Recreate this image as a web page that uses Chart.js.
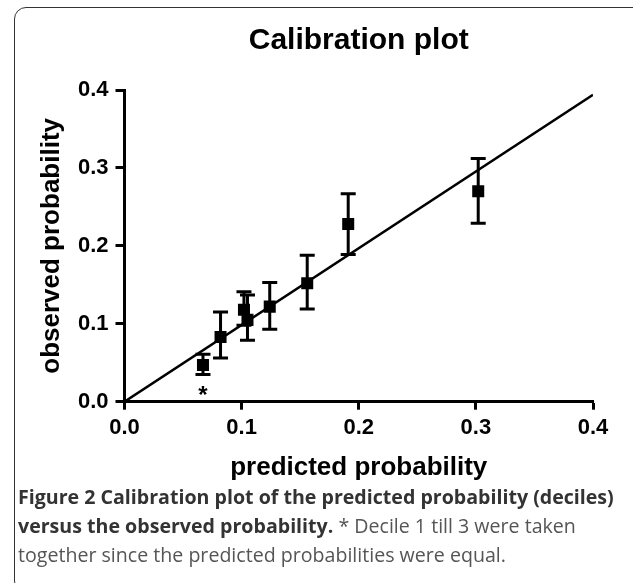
<!DOCTYPE html>
<html>
<head>
<meta charset="utf-8">
<script src="https://cdn.jsdelivr.net/npm/chart.js@4"></script>
<style>
    html, body { margin: 0; padding: 0; background: #fff; }
    #wrap { position: relative; width: 633px; height: 583px; overflow: hidden; }
    #frame {
        position: absolute; left: 14px; top: 7px; width: 650px; height: 586px;
        border: 1.5px solid #333; border-radius: 12px; box-sizing: border-box;
    }
    #plot { position: absolute; left: 0; top: 0; }
    #caption {
        position: absolute; left: 18px; top: 482px; width: 608px;
        font-family: 'Open Sans', sans-serif; font-size: 19.6px; line-height: 29px;
        color: #555;
    }
    #caption b { color: #333; }
</style>
</head>
<body>
<div id="wrap">
    <div id="frame"></div>
    <canvas id="plot" width="633" height="485"></canvas>
    <div id="caption"><b>Figure 2 Calibration plot of the predicted probability (deciles) versus the observed probability.</b> * Decile 1 till 3 were taken together since the predicted probabilities were equal.</div>
</div>
<script>
    // deciles: predicted vs observed, with error bar ends
    const predicted = [0.067, 0.082, 0.102, 0.105, 0.124, 0.156, 0.191, 0.302];
    const observed  = [0.047, 0.083, 0.118, 0.105, 0.122, 0.152, 0.228, 0.270];
    const lower     = [0.035, 0.056, 0.098, 0.079, 0.093, 0.119, 0.189, 0.229];
    const upper     = [0.061, 0.115, 0.141, 0.137, 0.153, 0.188, 0.267, 0.312];
    const refLine   = [[0, 0], [0.4, 0.394]];
    const tickValues = [0, 0.1, 0.2, 0.3, 0.4];
    const notes = [{ x: 0.067, y: 0.013, text: '*' }];

    const FONT = "'Liberation Sans', Arial, sans-serif";

    const errorBars = {
        id: 'errorBars',
        afterDatasetsDraw(chart) {
            const { ctx, scales: { x, y } } = chart;
            ctx.save();
            ctx.strokeStyle = '#000';
            ctx.lineWidth = 3;
            const cap = 7.5;
            predicted.forEach((p, i) => {
                const px = x.getPixelForValue(p);
                const y1 = y.getPixelForValue(lower[i]);
                const y2 = y.getPixelForValue(upper[i]);
                ctx.beginPath();
                ctx.moveTo(px, y1); ctx.lineTo(px, y2);
                ctx.moveTo(px - cap, y1); ctx.lineTo(px + cap, y1);
                ctx.moveTo(px - cap, y2); ctx.lineTo(px + cap, y2);
                ctx.stroke();
            });
            ctx.fillStyle = '#000';
            ctx.font = 'bold 24px ' + FONT;
            ctx.textAlign = 'center';
            ctx.textBaseline = 'middle';
            notes.forEach(n => {
                ctx.fillText(n.text, x.getPixelForValue(n.x), y.getPixelForValue(n.y) + 5);
            });
            ctx.restore();
        }
    };

    const axisCommon = {
        type: 'linear',
        min: 0,
        max: 0.4,
        border: { color: '#000', width: 3 },
        grid: {
            drawOnChartArea: false,
            drawTicks: true,
            tickColor: '#000',
            tickWidth: 3
        },
        afterBuildTicks: s => { s.ticks = tickValues.map(v => ({ value: v })); },
        ticks: {
            color: '#000',
            font: { family: FONT, size: 22, weight: 'bold' },
            callback: v => v.toFixed(1)
        }
    };

    new Chart(document.getElementById('plot'), {
        type: 'scatter',
        data: {
            datasets: [
                {
                    data: refLine.map(([a, b]) => ({ x: a, y: b })),
                    showLine: true,
                    borderColor: '#000',
                    borderWidth: 2.5,
                    pointRadius: 0
                },
                {
                    data: predicted.map((p, i) => ({ x: p, y: observed[i] })),
                    pointStyle: 'rect',
                    pointRadius: 8.5,
                    backgroundColor: '#000',
                    borderColor: '#000',
                    borderWidth: 0
                }
            ]
        },
        options: {
            responsive: false,
            animation: false,
            layout: { padding: { left: 0, right: 40, top: 0, bottom: 0 } },
            plugins: {
                legend: { display: false },
                tooltip: { enabled: false },
                title: {
                    display: true,
                    fullSize: false,
                    text: 'Calibration plot',
                    color: '#000',
                    font: { family: FONT, size: 30, weight: 'bold' },
                    padding: { top: 23, bottom: 31 }
                }
            },
            scales: {
                x: {
                    ...axisCommon,
                    grid: { ...axisCommon.grid, tickLength: 8 },
                    ticks: { ...axisCommon.ticks, padding: 5, maxRotation: 0 },
                    title: {
                        display: true,
                        text: 'predicted probability',
                        color: '#000',
                        font: { family: FONT, size: 26, weight: 'bold' },
                        padding: { top: 0, bottom: 2 }
                    },
                    afterFit: s => { s.height = 83.3; }
                },
                y: {
                    ...axisCommon,
                    grid: { ...axisCommon.grid, tickLength: 9 },
                    ticks: { ...axisCommon.ticks, padding: 7 },
                    title: {
                        display: true,
                        text: 'observed probability',
                        color: '#000',
                        font: { family: FONT, size: 26, weight: 'bold' },
                        padding: { top: 36, bottom: 0 }
                    },
                    afterFit: s => { s.width = 124.5; }
                }
            }
        },
        plugins: [errorBars]
    });
</script>
</body>
</html>
